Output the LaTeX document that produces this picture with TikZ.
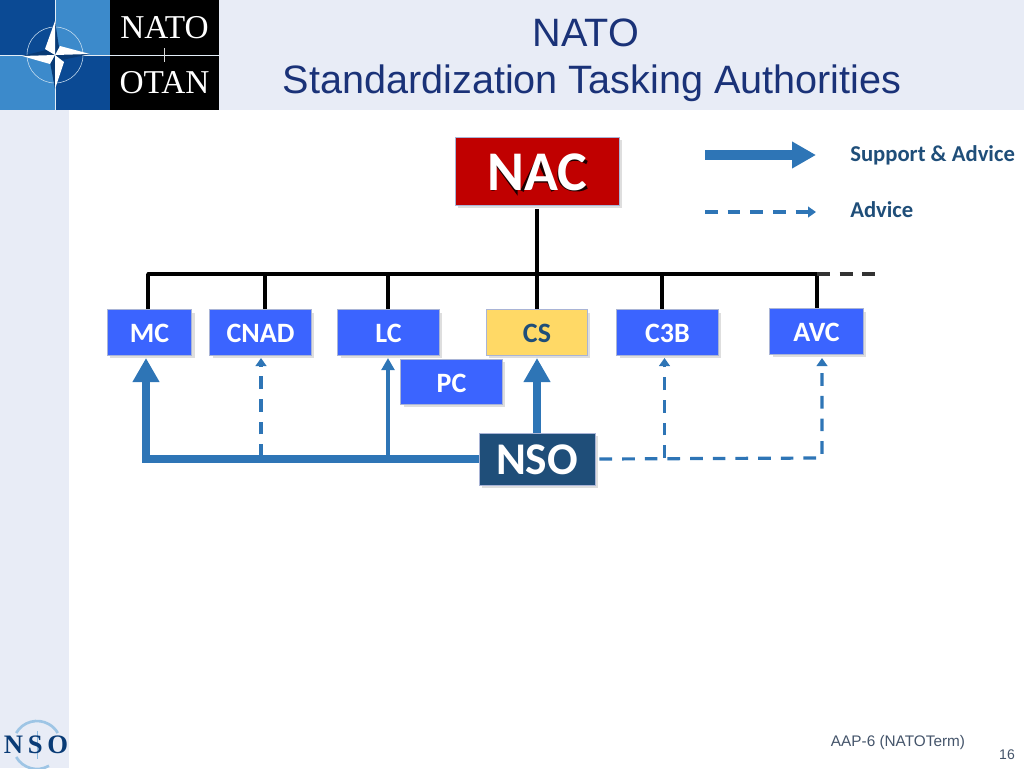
\documentclass[tikz,border=0pt]{standalone}
\usepackage{fontspec}
\setmainfont{Liberation Sans}
\newfontfamily\carl{Carlito}[Ligatures=TeX]
\newfontfamily\serf{Liberation Serif}
\usetikzlibrary{arrows.meta,shadows}
\definecolor{bandbg}{HTML}{E8ECF6}
\definecolor{titlec}{HTML}{1A3278}
\definecolor{boxblue}{HTML}{3B64FF}
\definecolor{boxedge}{HTML}{A9B4D6}
\definecolor{csfill}{HTML}{FFD966}
\definecolor{navy}{HTML}{1F4E79}
\definecolor{nacred}{HTML}{C00000}
\definecolor{arrowblue}{HTML}{2E75B6}
\definecolor{logodark}{HTML}{0B4A94}
\definecolor{logolight}{HTML}{3C8ACB}
\definecolor{foot}{HTML}{44546A}
\tikzset{
  box/.style={rectangle,inner sep=0pt,draw=boxedge,line width=0.7pt,
    drop shadow={shadow xshift=2pt,shadow yshift=-2pt,opacity=.13,fill=black}},
  smallbox/.style={box,fill=boxblue,text=white,text height=15.5pt,font=\carl\bfseries\fontsize{21}{24}\selectfont},
  bus/.style={draw=black,line width=2.4pt},
  thickflow/.style={draw=arrowblue,line width=5.6pt,-{Triangle[length=18pt,width=19pt]}},
  thinflow/.style={draw=arrowblue,line width=3pt,-{Triangle[length=9pt,width=9.5pt]}},
  advice/.style={draw=arrowblue,line width=2.4pt,dash pattern=on 9.5pt off 7.5pt},
  advicetip/.style={advice,-{Triangle[length=6pt,width=8pt]}},
  legend/.style={text=navy,font=\carl\bfseries\fontsize{17}{20}\selectfont,anchor=west,inner sep=0pt}
}
\begin{document}
\begin{tikzpicture}[x=0.75pt,y=-0.75pt]
\useasboundingbox (0,0) rectangle (1024,768);
% background bands
\fill[bandbg] (0,0) rectangle (1024,110);
\fill[bandbg] (0,110) rectangle (69,768);
% logo
\fill[logodark] (0,0) rectangle (55,55);
\fill[logolight] (55,0) rectangle (110,55);
\fill[logolight] (0,55) rectangle (55,110);
\fill[logodark] (55,55) rectangle (110,110);
\fill[black] (110,0) rectangle (219,110);
\draw[white!85!logolight,line width=0.5pt] (55,0) -- (55,110);
\draw[white!85!logolight,line width=0.7pt] (0,55) -- (219,55);
\draw[white!85!black,line width=0.6pt] (164,48) -- (164,62);
\draw[white!75!logolight,line width=0.4pt] (55,55) circle (28);
\fill[logodark!80!black] (46,50) -- (55,21) -- (59,47) -- (90,54) -- (62,60) -- (55,89) -- (50,62) -- (22,56) -- cycle;
\fill[white] (55,21) -- (55,55) -- (45,49) -- cycle;
\fill[white] (90,54) -- (55,55) -- (60,46) -- cycle;
\fill[white] (55,89) -- (55,55) -- (64,62) -- cycle;
\fill[white] (22,56) -- (55,55) -- (50,64) -- cycle;
\node[text=white,font=\serf\fontsize{25}{25}\selectfont,inner sep=0pt] (logoa) at (164.5,28) {NATO};
\node[text=white,font=\serf\fontsize{25}{25}\selectfont,inner sep=0pt] (logob) at (164.5,83) {OTAN};
% title
\node[text=titlec,font=\fontsize{29.7}{30}\selectfont,inner sep=0pt] (t1) at (586,33) {NATO};
\node[text=titlec,font=\fontsize{29.7}{30}\selectfont,inner sep=0pt] (t2) at (592,83) {Standardization Tasking Authorities};
% boxes
\node[box,fill=nacred,minimum width=123pt,minimum height=51pt] (nac) at (537,171.5) {};
\begin{scope}[black,line width=2.6pt,opacity=.85]
\draw (493,190.5) -- (493,159) -- (516,190.5) -- (516,159);
\draw (522,191) -- (538,159) -- (553,191) (527,181) -- (548,181);
\draw (587,162.5) .. controls (575,155) and (559,160) .. (559,174) .. controls (559,190) and (577,193) .. (587,187);
\end{scope}
\node[text=white,text height=29pt,font=\carl\bfseries\fontsize{42}{44}\selectfont,inner sep=0pt] (nactext) at (nac.center) {NAC};
\node[smallbox,minimum width=63.5pt,minimum height=34pt] (mc) at (149.5,332.5) {MC};
\node[smallbox,minimum width=76pt,minimum height=34pt] (cnad) at (260.5,332.5) {CNAD};
\node[smallbox,minimum width=76pt,minimum height=34pt] (lc) at (388.5,332.5) {LC};
\node[smallbox,minimum width=76pt,minimum height=34pt] (pc) at (451.5,382) {PC};
\node[box,fill=csfill,text=navy,text height=15.5pt,font=\carl\bfseries\fontsize{21}{24}\selectfont,minimum width=76pt,minimum height=34pt] (cs) at (537,332.5) {CS};
\node[smallbox,minimum width=76pt,minimum height=34pt] (c3b) at (667.5,332.5) {C3B};
\node[smallbox,minimum width=70pt,minimum height=34pt] (avc) at (816.5,331.5) {AVC};
\node[box,fill=navy,minimum width=87pt,minimum height=39pt,text=white,text height=23.5pt,font=\carl\bfseries\fontsize{34}{36}\selectfont] (nso) at (537,459) {NSO};
% org bus
\coordinate (busl) at (148,274);
\coordinate (busa) at (265,274);
\coordinate (busb) at (388,274);
\coordinate (busc) at (537,274);
\coordinate (busd) at (662,274);
\coordinate (buse) at (817,274);
\coordinate (busf) at (875,274);
\draw[bus] (nac.south) ++(0,3) -- (busc);
\draw[bus,line cap=round] (busl) -- (buse);
\draw[bus] (busl) -- (busl |- mc.north);
\draw[bus] (busa) -- (busa |- cnad.north);
\draw[bus] (busb) -- (busb |- lc.north);
\draw[bus] (busc) -- (cs.north);
\draw[bus] (busd) -- (busd |- c3b.north);
\draw[bus] (buse) -- (buse |- avc.north);
\draw[draw=black!80,line width=2.4pt,dash pattern=on 10pt off 7pt] (buse) -- (busf);
% flows
\coordinate (mcturn) at (146,459);
\coordinate (mctip) at (146,358);
\coordinate (cnadfoot) at (261,457);
\coordinate (cnadtip) at (261,358);
\coordinate (lcfoot) at (388,456);
\coordinate (lctip) at (388,358);
\coordinate (cstip) at (537,358);
\coordinate (c3bfoot) at (664.5,458);
\coordinate (c3btip) at (664.5,358);
\coordinate (avcturn) at (822,458);
\coordinate (avctip) at (822,358);
\draw[thickflow] (nso.west) -- (mcturn) -- (mctip);
\draw[thinflow] (lcfoot) -- (lctip);
\draw[advicetip] (cnadfoot) -- (cnadtip);
\draw[thickflow] (nso.north) -- (cstip);
\draw[advicetip] (c3bfoot) -- (c3btip);
\draw[advicetip] (nso.east) ++(4,0) -- (avcturn) -- (avctip);
% legend
\coordinate (la) at (705,155);
\coordinate (lb) at (816,155);
\coordinate (lc2) at (705,212);
\coordinate (ld) at (816,212);
\draw[draw=arrowblue,line width=7pt,-{Triangle[length=18pt,width=19pt]}] (la) -- (lb);
\draw[advicetip] (lc2) -- (ld);
\node[legend] (l1) at (850,155.5) {Support \& Advice};
\node[legend] (l2) at (850,209.5) {Advice};
% footer
\draw[logolight!50!white,line width=2pt] (16.2,733) arc (210:330:24);
\draw[logolight!50!white,line width=2pt] (16.2,757) arc (150:60:24);
\draw[logolight!60!white,line width=0.6pt] (37,731) -- (37,759);
\node[text=logodark!80!black,font=\serf\bfseries\fontsize{20}{20}\selectfont,inner sep=0pt] (nsologo) at (36,745) {N\hspace{3.5pt}S\hspace{3.5pt}O};
\node[text=foot,font=\fontsize{11.5}{13}\selectfont,inner sep=0pt] (f1) at (898,743) {AAP-6 (NATOTerm)};
\node[text=foot,font=\fontsize{10.5}{12}\selectfont,inner sep=0pt] (f2) at (1007,755) {16};
\end{tikzpicture}
\end{document}
